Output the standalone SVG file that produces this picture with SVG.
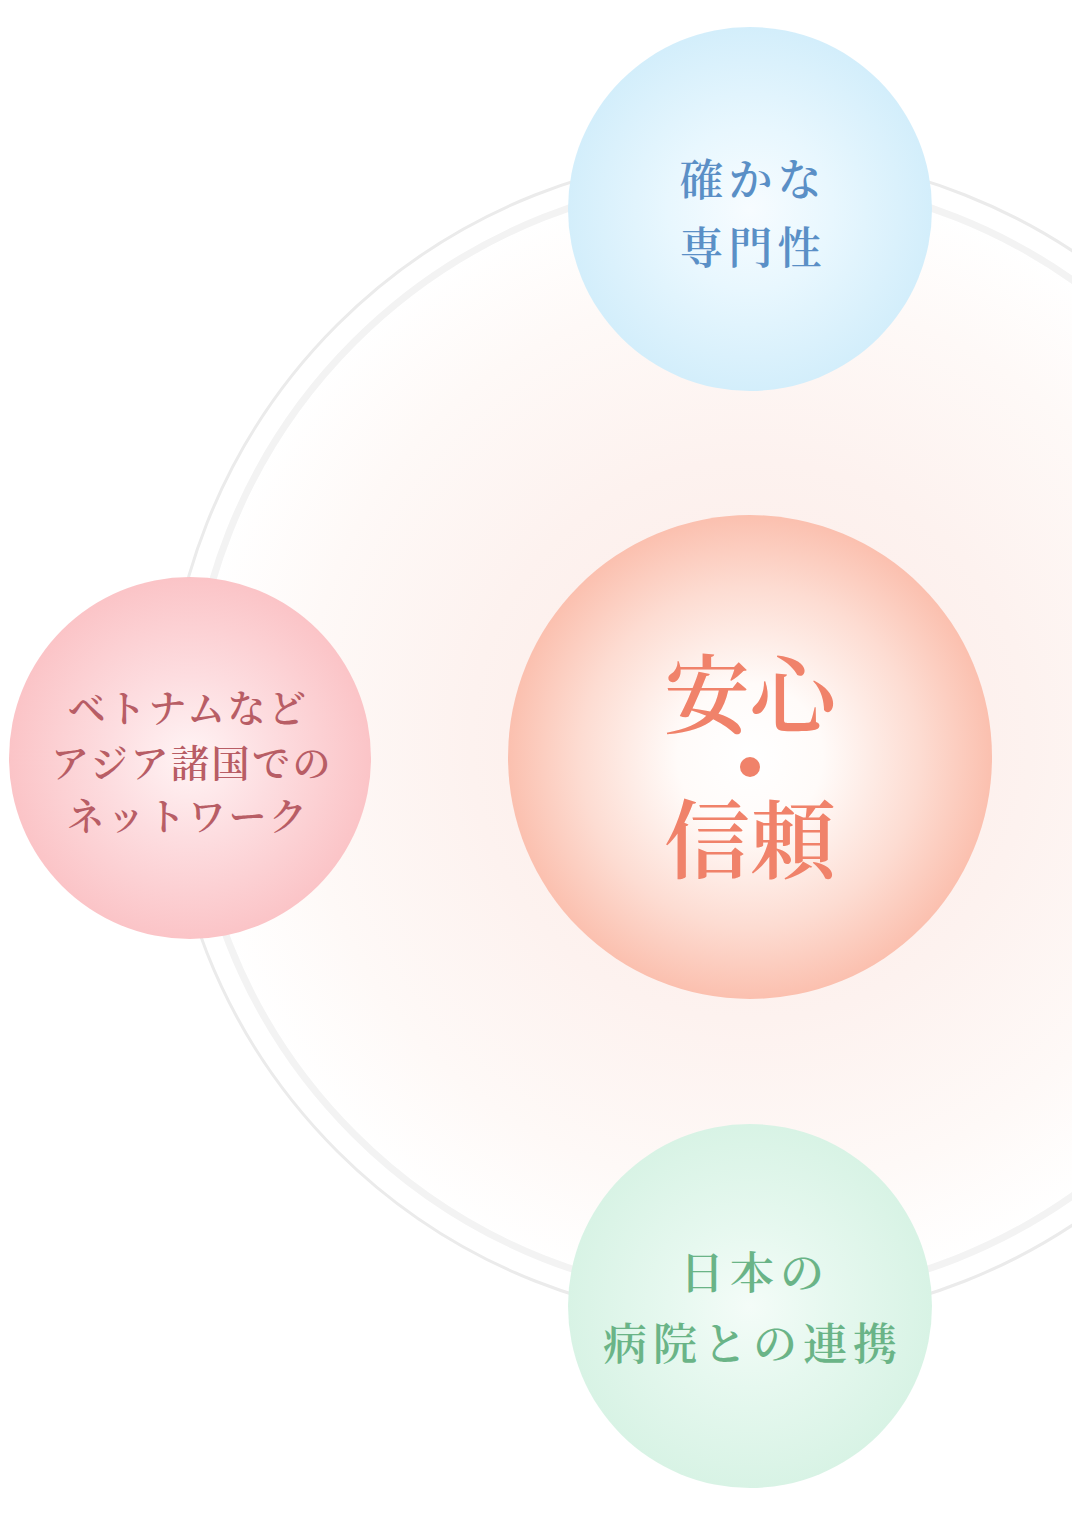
<svg xmlns="http://www.w3.org/2000/svg" width="1072" height="1520" viewBox="0 0 1072 1520">
  <defs>
    <radialGradient id="gBg" cx="750" cy="740" r="560" gradientUnits="userSpaceOnUse">
      <stop offset="0" stop-color="#FCEBE7"/>
      <stop offset="0.5" stop-color="#FDF2EF"/>
      <stop offset="0.8" stop-color="#FEF9F7"/>
      <stop offset="1" stop-color="#FFFFFF"/>
    </radialGradient>
    <radialGradient id="gBlue">
      <stop offset="0" stop-color="#F7FCFF"/>
      <stop offset="0.45" stop-color="#E8F7FE"/>
      <stop offset="1" stop-color="#D3EEFB"/>
    </radialGradient>
    <radialGradient id="gPink">
      <stop offset="0" stop-color="#FFF4F5"/>
      <stop offset="0.45" stop-color="#FDDDE0"/>
      <stop offset="1" stop-color="#FBC4C7"/>
    </radialGradient>
    <radialGradient id="gCenter">
      <stop offset="0" stop-color="#FFFFFF"/>
      <stop offset="0.3" stop-color="#FFFBF9"/>
      <stop offset="0.7" stop-color="#FDDCD2"/>
      <stop offset="1" stop-color="#FBC0AF"/>
    </radialGradient>
    <radialGradient id="gGreen">
      <stop offset="0" stop-color="#F4FCF8"/>
      <stop offset="0.45" stop-color="#E6F8EF"/>
      <stop offset="1" stop-color="#D8F3E5"/>
    </radialGradient>
  </defs>
  <style>
    .jp { font-family: "Noto Serif CJK JP", "Noto Sans CJK JP", serif; text-anchor: middle; dominant-baseline: central; font-weight: 600; }
    .blue { fill: #5A8FC6; font-size: 44px; letter-spacing: 5px; }
    .rose { fill: #B85D65; font-size: 38px; letter-spacing: 2.5px; }
    .salmon { fill: #F0826A; font-size: 86px; }
    .green { fill: #6AB487; font-size: 44px; letter-spacing: 6px; }
  </style>
  <rect width="1072" height="1520" fill="#FFFFFF"/>
  <g id="rings">
    <circle cx="750" cy="738" r="557" fill="url(#gBg)"/>
    <circle cx="750" cy="738" r="584" fill="none" stroke="#EBEBEB" stroke-width="3"/>
    <circle cx="750" cy="738" r="560" fill="none" stroke="#F3F3F3" stroke-width="7"/>
  </g>
  <g id="connectors"></g>
  <g id="node-expertise">
    <circle cx="750" cy="209" r="182" fill="url(#gBlue)"/>
    <text class="jp blue" x="753" y="177">確かな</text>
    <text class="jp blue" x="753" y="245">専門性</text>
  </g>
  <g id="node-network">
    <circle cx="190" cy="758" r="181" fill="url(#gPink)"/>
    <text class="jp rose" x="188" y="705">ベトナムなど</text>
    <text class="jp rose" x="192" y="760">アジア諸国での</text>
    <text class="jp rose" x="188" y="813">ネットワーク</text>
  </g>
  <g id="node-trust">
    <circle cx="750" cy="757" r="242" fill="url(#gCenter)"/>
    <text class="jp salmon" x="750" y="690">安心</text>
    <circle cx="750" cy="767" r="10" fill="#F0826A"/>
    <text class="jp salmon" x="750" y="835">信頼</text>
  </g>
  <g id="node-hospitals">
    <circle cx="750" cy="1306" r="182" fill="url(#gGreen)"/>
    <text class="jp green" x="755" y="1270">日本の</text>
    <text class="jp green" x="753" y="1341">病院との連携</text>
  </g>
</svg>
